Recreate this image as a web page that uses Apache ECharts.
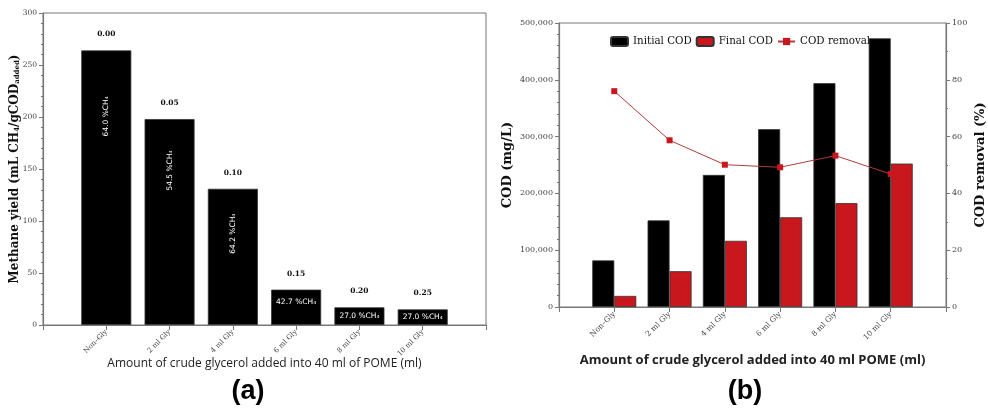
<!DOCTYPE html>
<html><head><meta charset="utf-8">
<script src="https://cdn.jsdelivr.net/npm/echarts@6/dist/echarts.min.js"></script>
<style>html,body{margin:0;padding:0;background:#fff}#c{width:988px;height:412px}</style>
</head><body><div id="c"></div>
<script>
const categories = ['Non–Gly','2 ml Gly','4 ml Gly','6 ml Gly','8 ml Gly','10 ml Gly'];
const methaneYield = [264, 198, 131, 34, 17, 15];
const glycerolRatio = ['0.00','0.05','0.10','0.15','0.20','0.25'];
const ch4Content = ['64.0','54.5','64.2','42.7','27.0','27.0'];
const initialCOD = [82000, 152500, 232500, 313000, 394000, 473000];
const finalCOD = [19500, 63000, 116500, 158000, 183000, 252500];
const codRemoval = [76.0, 58.7, 50.1, 49.2, 53.3, 46.8];

const serif = 'DejaVu Serif';
const axisCol = '#777';
const pos = categories.map((c,i)=>i+1);
const vertLabelPos = ['24%','25%','33%'];

const xAxisBase = (gi, fs) => ({
  type:'value', gridIndex:gi, min:0, max:7, interval:1, nameMoveOverlap:false,
  axisLine:{show:true, lineStyle:{color:axisCol, width:1.2}},
  axisTick:{show:true, length:5, lineStyle:{color:axisCol}},
  splitLine:{show:false},
  axisLabel:{rotate:45, fontFamily:serif, fontSize:fs, color:'#444', margin:6,
    formatter:v=>categories[v-1]||''}
});

const ch4Data = methaneYield.map((v,i)=>{
  const vertical = i < 3;
  return {
    value:[pos[i], v],
    label: vertical ? {show:true, position:['50%', vertLabelPos[i]], rotate:90, align:'center', verticalAlign:'middle'}
                    : {show:true, position:'inside', offset:[0, i===3?-5:0]}
  };
});

const option = {
  animation:false,
  grid:[
    {left:43, right:502, top:13, bottom:87, show:true, borderColor:axisCol, borderWidth:1},
    {left:559, right:36, top:23, bottom:105, show:true, borderColor:axisCol, borderWidth:1}
  ],
  xAxis:[
    Object.assign(xAxisBase(0,7), {name:'Amount of crude glycerol added into 40 ml of POME (ml)', nameLocation:'middle', nameGap:33,
      nameTextStyle:{fontFamily:'Open Sans', fontSize:12, color:'#222'}}),
    Object.assign(xAxisBase(1,7.5), {name:'Amount of crude glycerol added into 40 ml POME (ml)', nameLocation:'middle', nameGap:47,
      nameTextStyle:{fontFamily:'Open Sans', fontWeight:'bold', fontSize:13, color:'#222'}})
  ],
  yAxis:[
    {type:'value', gridIndex:0, min:0, max:300, interval:50, nameMoveOverlap:false,
      name:'Methane yield (mL CH{s|4}/gCOD{s|added})', nameLocation:'middle', nameGap:22,
      nameTextStyle:{fontFamily:serif, fontWeight:'bold', fontSize:12, color:'#111',
        rich:{s:{fontFamily:serif, fontWeight:'bold', fontSize:7, verticalAlign:'bottom', padding:[6,0,0,0]}}},
      axisLine:{show:true, lineStyle:{color:axisCol, width:1.2}},
      axisTick:{show:true, length:4, lineStyle:{color:axisCol}},
      minorTick:{show:true, splitNumber:5, length:2, lineStyle:{color:axisCol}},
      splitLine:{show:false},
      axisLabel:{fontFamily:serif, fontSize:7.5, color:'#444', margin:6}},
    {type:'value', gridIndex:1, min:0, max:500000, interval:100000, nameMoveOverlap:false,
      name:'COD (mg/L)', nameLocation:'middle', nameGap:45,
      nameTextStyle:{fontFamily:serif, fontWeight:'bold', fontSize:13, color:'#111'},
      axisLine:{show:true, lineStyle:{color:axisCol, width:1.2}},
      axisTick:{show:true, length:4, lineStyle:{color:axisCol}},
      minorTick:{show:true, splitNumber:5, length:2, lineStyle:{color:axisCol}},
      splitLine:{show:false},
      axisLabel:{fontFamily:serif, fontSize:8, color:'#444', margin:6,
        formatter:v=>v.toLocaleString('en-US')}},
    {type:'value', gridIndex:1, min:0, max:100, interval:20, position:'right', nameMoveOverlap:false,
      name:'COD removal (%)', nameLocation:'middle', nameGap:28, nameRotate:90,
      nameTextStyle:{fontFamily:serif, fontWeight:'bold', fontSize:13, color:'#111'},
      axisLine:{show:true, lineStyle:{color:axisCol, width:1.2}},
      axisTick:{show:true, length:4, lineStyle:{color:axisCol}},
      minorTick:{show:true, splitNumber:2, length:2, lineStyle:{color:axisCol}},
      splitLine:{show:false},
      axisLabel:{fontFamily:serif, fontSize:8, color:'#444', margin:6}}
  ],
  legend:{
    data:['Initial COD','Final COD','COD removal'],
    left:610, top:36, padding:0, itemWidth:17, itemHeight:9, itemGap:4,
    textStyle:{fontFamily:serif, fontSize:10.3, color:'#111'}
  },
  series:[
    {type:'bar', name:'yield', xAxisIndex:0, yAxisIndex:0, barWidth:50,
      itemStyle:{color:'#000', borderColor:'#333', borderWidth:0.8},
      label:{show:true, color:'#fff', fontFamily:'DejaVu Sans', fontSize:7.5,
        formatter:p=>ch4Content[p.dataIndex]+' %CH₄'},
      data:ch4Data},
    {type:'bar', name:'ratio', xAxisIndex:0, yAxisIndex:0, barWidth:50, barGap:'-100%',
      itemStyle:{color:'rgba(0,0,0,0)'}, silent:true,
      label:{show:true, position:'top', distance:12, fontFamily:serif, fontWeight:'bold', fontSize:7.5, color:'#111',
        formatter:p=>glycerolRatio[p.dataIndex]},
      data:methaneYield.map((v,i)=>[pos[i], v])},
    {type:'bar', name:'Initial COD', xAxisIndex:1, yAxisIndex:1, barWidth:22, barGap:'0%',
      itemStyle:{color:'#000', borderColor:'#333', borderWidth:0.8},
      data:initialCOD.map((v,i)=>[pos[i], v])},
    {type:'bar', name:'Final COD', xAxisIndex:1, yAxisIndex:1, barWidth:22, barGap:'0%',
      itemStyle:{color:'#c8181e', borderColor:'#333', borderWidth:0.8},
      data:finalCOD.map((v,i)=>[pos[i], v])},
    {type:'line', name:'COD removal', xAxisIndex:1, yAxisIndex:2,
      symbol:'rect', symbolSize:6, lineStyle:{color:'#b03a3a', width:1},
      itemStyle:{color:'#c8181e'},
      data:codRemoval.map((v,i)=>[pos[i], v])}
  ],
  graphic:[
    {type:'text', x:248, y:392, style:{text:'(a)', align:'center', verticalAlign:'middle',
      font:'bold 27px "Liberation Sans", Arial', fill:'#000'}},
    {type:'text', x:745, y:392, style:{text:'(b)', align:'center', verticalAlign:'middle',
      font:'bold 27px "Liberation Sans", Arial', fill:'#000'}}
  ]
};
const chart = echarts.init(document.getElementById('c'), null, {renderer:'canvas'});
chart.setOption(option);
</script></body></html>
